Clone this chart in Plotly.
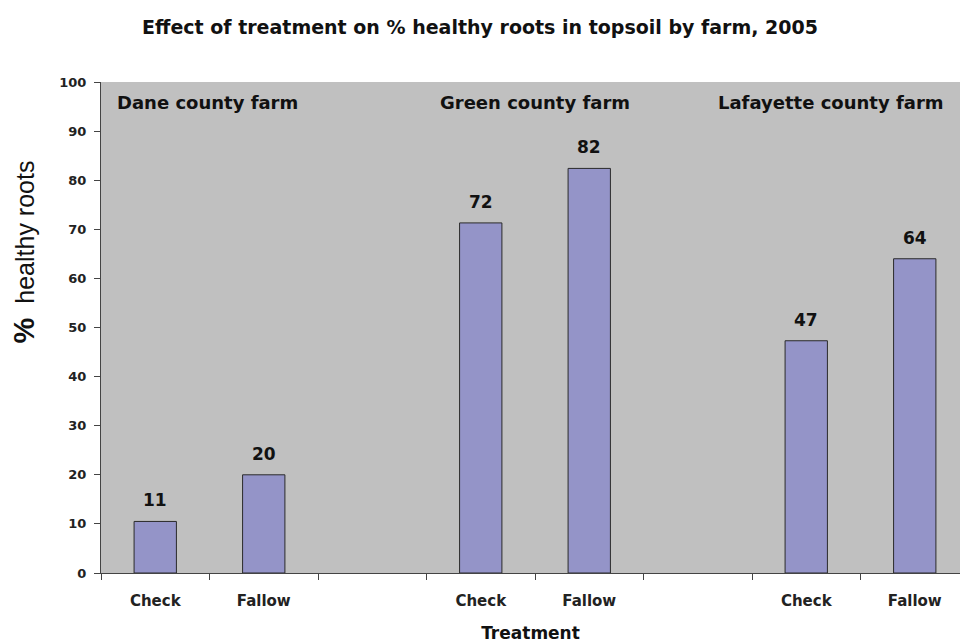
import plotly.graph_objects as go

farms = ["Dane county farm", "Green county farm", "Lafayette county farm"]
treatments = ["Check", "Fallow"]
slot_positions = [0, 1, 3, 4, 6, 7]
tick_labels = ["Check", "Fallow", "Check", "Fallow", "Check", "Fallow"]
healthy_pct = [10.5, 20.0, 71.3, 82.4, 47.3, 64.0]
value_labels = ["11", "20", "72", "82", "47", "64"]
farm_label_x = [-0.371, 2.606, 5.168]

BOLD = "DejaVu Sans"

fig = go.Figure()
fig.add_trace(go.Bar(
    x=slot_positions, y=healthy_pct, width=0.39,
    marker=dict(color="#9494C8", line=dict(color="#2a2a2a", width=1)),
    hoverinfo="skip",
))

for xp, v, lab in zip(slot_positions, healthy_pct, value_labels):
    fig.add_annotation(x=xp, y=v, xref="x", yref="y", text="<b>%s</b>" % lab,
                       showarrow=False, xanchor="center", yanchor="bottom", yshift=9,
                       font=dict(family=BOLD, size=17, color="#111111"))

for name, xp in zip(farms, farm_label_x):
    fig.add_annotation(x=xp, y=95.9, xref="x", yref="y", text="<b>%s</b>" % name,
                       showarrow=False, xanchor="left", yanchor="middle",
                       font=dict(family=BOLD, size=18, color="#111111"))

fig.add_annotation(x=-0.0896, y=0.653, xref="paper", yref="paper",
                   text="<b><span style='font-size:29px'>%</span></b>  healthy roots",
                   textangle=-90, showarrow=False,
                   xanchor="center", yanchor="middle",
                   font=dict(family="Arial", size=25, color="#111111"))

fig.update_layout(
    width=960, height=643,
    margin=dict(l=101, r=0, t=82, b=70),
    paper_bgcolor="white", plot_bgcolor="#C0C0C0",
    showlegend=False,
    title=dict(text="<b>Effect of treatment on % healthy roots in topsoil by farm, 2005</b>",
               x=0.5, xanchor="center", y=1 - 27 / 643, yanchor="middle",
               font=dict(family=BOLD, size=19, color="#111111")),
    xaxis=dict(range=[-0.5, 7.5 - 9 / 108.5], tickvals=slot_positions,
               ticktext=["<b>%s</b>" % t for t in tick_labels],
               ticks="", showgrid=False, zeroline=False,
               showline=True, linecolor="#444444", linewidth=1,
               tickfont=dict(family=BOLD, size=15, color="#222222"),
               ticklabelstandoff=14,
               minor=dict(tickvals=[-0.5, 0.5, 1.5, 2.5, 3.5, 4.5, 5.5, 6.5],
                          ticks="outside", ticklen=6, tickcolor="#444444", showgrid=False),
               title=dict(text="<b>Treatment</b>", standoff=18,
                          font=dict(family=BOLD, size=17, color="#111111"))),
    yaxis=dict(range=[0, 100], dtick=10, ticks="outside", ticklen=6, tickcolor="#444444",
               tickvals=list(range(0, 101, 10)),
               ticktext=["<b>%d</b>" % v for v in range(0, 101, 10)],
               showgrid=False, zeroline=False, showline=True, linecolor="#444444", linewidth=1,
               tickfont=dict(family=BOLD, size=13, color="#222222"), ticklabelstandoff=5),
)

fig.write_html("out.html")
